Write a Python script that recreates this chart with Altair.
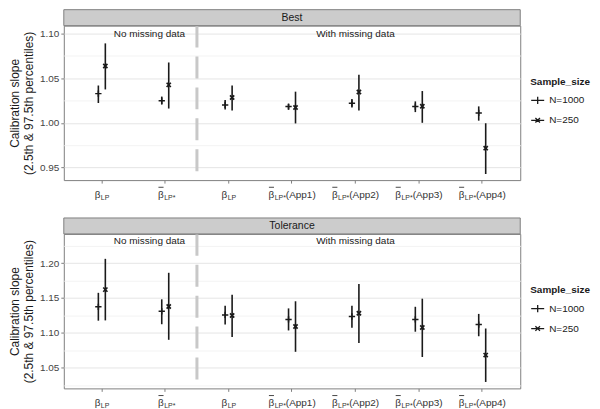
import altair as alt
import pandas as pd

# ---------------- data ----------------
categories = ["bLP_full", "bbar_full", "bLP_miss", "App1", "App2", "App3", "App4"]
label_main = ["β", "β", "β", "β", "β", "β", "β"]
label_has_bar = [False, True, False, True, True, True, True]
label_sub = ["LP", "LP*", "LP", "LP*", "LP*", "LP*", "LP*"]
label_app = ["", "", "", "(App1)", "(App2)", "(App3)", "(App4)"]
sizes = ["N=1000", "N=250"]

best_n1000_est = [1.0328, 1.0248, 1.0201, 1.0183, 1.0219, 1.0183, 1.0112]
best_n1000_lo = [1.0223, 1.0205, 1.0150, 1.0150, 1.0172, 1.0121, 1.0025]
best_n1000_hi = [1.0419, 1.0295, 1.0256, 1.0212, 1.0267, 1.0241, 1.0185]
best_n250_est = [1.0637, 1.0426, 1.0285, 1.0172, 1.0346, 1.0187, 0.9717]
best_n250_lo = [1.0375, 1.0161, 1.0139, 0.9994, 1.0139, 1.0001, 0.9427]
best_n250_hi = [1.0891, 1.0677, 1.0419, 1.0350, 1.0539, 1.0357, 0.9996]

tol_n1000_est = [1.1373, 1.1308, 1.1257, 1.1192, 1.1234, 1.1192, 1.1118]
tol_n1000_lo = [1.1174, 1.1123, 1.1118, 1.1034, 1.1071, 1.1016, 1.0951]
tol_n1000_hi = [1.1573, 1.1480, 1.1387, 1.1350, 1.1387, 1.1373, 1.1271]
tol_n250_est = [1.1619, 1.1378, 1.1248, 1.1090, 1.1280, 1.1076, 1.0681]
tol_n250_lo = [1.1178, 1.0900, 1.0941, 1.0728, 1.0853, 1.0654, 1.0296]
tol_n250_hi = [1.2060, 1.1860, 1.1545, 1.1452, 1.1698, 1.1489, 1.1062]

best_domain = [0.9359, 1.109]
best_ticks = [0.95, 0.975, 1.00, 1.025, 1.05, 1.075, 1.10]
tol_domain = [1.0204, 1.2417]
tol_ticks = [1.025, 1.05, 1.075, 1.10, 1.125, 1.15, 1.175, 1.20, 1.225]

annot_text = ["No missing data", "With missing data"]
annot_cat = ["bbar_full", "App2"]
annot_band = [0.25, 0.5]
best_annot_y = 1.10
tol_annot_y = 1.231

strip_labels = ["Best", "Tolerance"]

# ---------------- style ----------------
W, H = 458, 155
STEP = W / 7.2
DODGE = 3.5
FONT = "Liberation Sans"
INK = "#1a1a1a"
LAB = "#333333"
PLUS = "M-1,0L1,0M0,-1L0,1"
XSHAPE = "M-0.8,-0.8L0.8,0.8M-0.8,0.8L0.8,-0.8"
LEG_PLUS = "M-1,0L1,0M0,-0.55L0,0.55"
LEG_X = "M-1,0L1,0M-0.35,-0.35L0.35,0.35M-0.35,0.35L0.35,-0.35"
MAJOR_TEST = "abs(round(datum.value*20) - datum.value*20) < 0.001"

# label part anchors (pixel offsets from the tick)
NA_ANCHOR = -1.4     # right edge of beta, labels without "(App)"
AP_ANCHOR = -17.8    # right edge of beta, labels with "(App)"
BETA_W = 5.7


def bp(off):
    return 0.5 + off / STEP


label_df = pd.DataFrame({
    "cat": categories, "main": label_main, "bar": label_has_bar, "sub": label_sub, "app": label_app,
    "has_app": [a != "" for a in label_app],
})


def make_panel(e1, l1, h1, e2, l2, h2, domain, ticks, annot_y, strip):
    rows = []
    for i, c in enumerate(categories):
        rows.append({"cat": c, "Sample_size": sizes[0], "est": e1[i], "lo": l1[i], "hi": h1[i]})
        rows.append({"cat": c, "Sample_size": sizes[1], "est": e2[i], "lo": l2[i], "hi": h2[i]})
    df = pd.DataFrame(rows)

    xscale = alt.Scale(domain=categories, paddingInner=0, paddingOuter=0.1)
    xaxis = alt.Axis(labels=False, title=None, domain=False, bandPosition=0.5,
                     tickColor="#7f7f7f", tickSize=3, gridColor="#e5e5e5")
    X = alt.X("cat:N", sort=categories, scale=xscale, axis=xaxis)
    XO = alt.XOffset("Sample_size:N", sort=sizes,
                     scale=alt.Scale(domain=sizes, paddingInner=0, paddingOuter=0,
                                     range=[STEP / 2 - 2 * DODGE, STEP / 2 + 2 * DODGE]))
    yscale = alt.Scale(domain=domain, nice=False, zero=False)
    yaxis = alt.Axis(
        values=ticks, domain=False,
        title=["Calibration slope", "(2.5th & 97.5th percentiles)"],
        titleFontSize=12, titleFontWeight="normal", titleColor=INK, titleLineHeight=14,
        titlePadding=4, labelPadding=2, tickSize=3, labelFontSize=10, labelColor="#444444",
        labelExpr=f"{MAJOR_TEST} ? format(datum.value, '.2f') : ''",
        gridColor={"condition": {"test": MAJOR_TEST, "value": "#e5e5e5"}, "value": "#f3f3f3"},
        tickColor={"condition": {"test": MAJOR_TEST, "value": "#7f7f7f"}, "value": "transparent"},
    )

    def Y(field):
        return alt.Y(f"{field}:Q", scale=yscale, axis=yaxis)

    base = alt.Chart(df)
    bars = base.mark_rule(color=INK, strokeWidth=1.6).encode(x=X, xOffset=XO, y=Y("lo"), y2="hi")
    p1000 = base.transform_filter(alt.datum.Sample_size == sizes[0]).mark_point(
        shape=PLUS, size=40, filled=False, strokeWidth=1.5, color=INK, opacity=1
    ).encode(x=X, xOffset=XO, y=Y("est"))
    p250 = base.transform_filter(alt.datum.Sample_size == sizes[1]).mark_point(
        shape=XSHAPE, size=28, filled=False, strokeWidth=1.7, color=INK, opacity=1
    ).encode(x=X, xOffset=XO, y=Y("est"))
    leg = base.mark_point(opacity=0, filled=False, color=INK).encode(
        x=X, xOffset=XO, y=Y("est"),
        shape=alt.Shape("Sample_size:N", sort=sizes,
                        scale=alt.Scale(domain=sizes, range=[LEG_PLUS, LEG_X]),
                        legend=alt.Legend(
                            title="Sample_size", orient="none", legendX=W + 10, legendY=H / 2 - 26,
                            titleFontSize=10, titleFontWeight="bold", titleColor=INK,
                            labelFontSize=10, labelColor=INK, symbolSize=170,
                            symbolStrokeWidth=1.3, symbolStrokeColor=INK,
                            symbolFillColor="transparent", symbolOpacity=1,
                            rowPadding=6, titlePadding=6, labelOffset=4)),
    )

    sep = alt.Chart(pd.DataFrame({"cat": [categories[2]]})).mark_rule(
        color="#c8c8c8", strokeWidth=3, strokeDash=[22, 9]
    ).encode(x=alt.X("cat:N", sort=categories, scale=xscale, axis=xaxis, bandPosition=0))

    ann_layers = []
    for t, c, b in zip(annot_text, annot_cat, annot_band):
        adf = pd.DataFrame({"cat": [c], "y": [annot_y], "t": [t]})
        ann_layers.append(
            alt.Chart(adf).mark_text(font=FONT, fontSize=10, color=INK).encode(
                x=alt.X("cat:N", sort=categories, scale=xscale, axis=xaxis, bandPosition=b),
                y=Y("y"), text="t:N")
        )

    sdf = pd.DataFrame({"s": [strip]})
    strip_rect = alt.Chart(sdf).mark_rect(fill="#cccccc", stroke="#7f7f7f", strokeWidth=1).encode(
        x=alt.value(0), x2=alt.value(W), y=alt.value(-16), y2=alt.value(0))
    strip_text = alt.Chart(sdf).mark_text(font=FONT, fontSize=10.5, color=INK, baseline="middle").encode(
        x=alt.value(W / 2), y=alt.value(-8), text="s:N")

    lab = alt.Chart(label_df)
    no_app = lab.transform_filter("!datum.has_app")
    w_app = lab.transform_filter("datum.has_app")
    ly = alt.value(H + 15)

    def overline(src, anchor):
        return src.transform_filter("datum.bar").mark_rule(color=LAB, strokeWidth=0.9).encode(
            x=alt.X("cat:N", sort=categories, scale=xscale, axis=xaxis, bandPosition=bp(anchor - BETA_W + 0.3)),
            x2=alt.X2("cat", bandPosition=bp(anchor - 0.3)),
            y=alt.value(H + 7.2))

    lab_layers = [
        no_app.mark_text(font=FONT, fontSize=10, color=LAB, align="right", dx=NA_ANCHOR).encode(x=X, y=ly, text="main:N"),
        no_app.mark_text(font=FONT, fontSize=7, color=LAB, align="left", dx=NA_ANCHOR + 0.4, dy=2.5).encode(x=X, y=ly, text="sub:N"),
        w_app.mark_text(font=FONT, fontSize=10, color=LAB, align="right", dx=AP_ANCHOR).encode(x=X, y=ly, text="main:N"),
        overline(w_app, AP_ANCHOR),
        w_app.mark_text(font=FONT, fontSize=7, color=LAB, align="left", dx=AP_ANCHOR + 0.4, dy=2.5).encode(x=X, y=ly, text="sub:N"),
        w_app.mark_text(font=FONT, fontSize=10, color=LAB, align="left", dx=-6.2).encode(x=X, y=ly, text="app:N"),
    ]
    # the one label with an overline but no "(App)" part
    lab_layers.append(overline(lab.transform_filter("!datum.has_app"), NA_ANCHOR))

    return alt.layer(sep, bars, p1000, p250, leg, *ann_layers, strip_rect, strip_text, *lab_layers).properties(
        width=W, height=H)


top = make_panel(best_n1000_est, best_n1000_lo, best_n1000_hi,
                 best_n250_est, best_n250_lo, best_n250_hi,
                 best_domain, best_ticks, best_annot_y, strip_labels[0])
bottom = make_panel(tol_n1000_est, tol_n1000_lo, tol_n1000_hi,
                    tol_n250_est, tol_n250_lo, tol_n250_hi,
                    tol_domain, tol_ticks, tol_annot_y, strip_labels[1])

chart = alt.vconcat(top, bottom, spacing=16).resolve_scale(
    y="independent", shape="independent"
).resolve_legend(shape="independent").configure(
    font=FONT, padding=0, background="white"
).configure_view(stroke="#7f7f7f", strokeWidth=1)

chart.save("out.html", embed_options={"renderer": "svg", "actions": False})
